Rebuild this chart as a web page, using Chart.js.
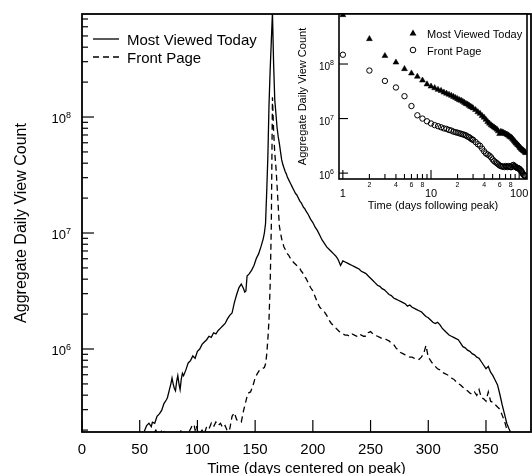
<!DOCTYPE html>
<html>
<head>
<meta charset="utf-8">
<script src="https://cdn.jsdelivr.net/npm/chart.js@4.4.1/dist/chart.umd.min.js"></script>
<style>
  html, body { margin: 0; padding: 0; background: #fff; }
  #wrap { position: relative; width: 532px; height: 474px; }
  #main { position: absolute; left: 0; top: 0; }
  #inset { position: absolute; left: 280px; top: 0; }
</style>
</head>
<body>
<div id="wrap">
  <canvas id="main" width="532" height="474"></canvas>
  <canvas id="inset" width="252" height="215"></canvas>
</div>
<script>
// values are log10 of the aggregate daily view count
const mostViewedDays = [
  54, 56, 58, 60, 61, 63, 65, 67, 69, 71, 73, 74, 76, 77, 78, 79, 80, 81, 82, 83,
  84, 85, 86, 87, 88, 90, 92, 94, 96, 98, 100, 102, 104, 106, 108, 110, 112, 114, 116, 118,
  120, 122, 124, 126, 128, 130, 132, 134, 136, 138, 140, 141, 142, 143, 145, 147, 149, 151, 153, 155,
  157, 158, 159, 160, 161, 162, 163, 164, 165,
  166, 167, 168, 169, 170, 171, 172, 173, 174, 175, 176, 177, 178, 179, 180, 181, 182, 183, 184, 185,
  186, 187, 188, 189, 190, 191, 192, 193, 194,
  196, 198, 200, 202, 204, 206, 208, 210, 212, 214, 216, 218, 220, 222, 224, 226, 228, 230, 232, 234,
  236, 238, 240, 242, 244, 246, 248, 250, 252, 254, 256, 258, 260, 262, 264, 266, 268, 270, 272, 274,
  276, 278, 280, 282, 284, 286, 288, 290, 292, 294, 296, 298, 300, 302, 304, 306, 308, 310, 312, 314,
  316, 318, 320, 322, 324, 326, 328, 330, 332, 334, 336, 338, 340, 342, 344, 346, 348, 350, 352, 354,
  356, 358, 360, 362, 364, 366, 368, 370, 372
];
const mostViewedLog10 = [
  5.29, 5.34, 5.36, 5.33, 5.37, 5.36, 5.42, 5.44, 5.47, 5.53, 5.56, 5.58, 5.66, 5.70, 5.75, 5.70, 5.66, 5.64, 5.72, 5.77,
  5.70, 5.65, 5.74, 5.79, 5.77, 5.82, 5.88, 5.90, 5.94, 5.92, 5.98, 6.00, 6.04, 6.06, 6.08, 6.11, 6.10, 6.14, 6.13, 6.16,
  6.18, 6.20, 6.22, 6.26, 6.29, 6.31, 6.40, 6.47, 6.53, 6.56, 6.52, 6.49, 6.50, 6.63, 6.65, 6.68, 6.72, 6.78, 6.82, 6.88,
  6.95, 7.00, 7.08, 7.35, 7.65, 8.10, 8.40, 8.65, 8.90,
  8.46, 8.15, 8.03, 7.91, 7.83, 7.77, 7.70, 7.63, 7.59, 7.56, 7.53, 7.51, 7.48, 7.46, 7.44, 7.42, 7.40, 7.38, 7.36, 7.34,
  7.33, 7.31, 7.29, 7.27, 7.26, 7.24, 7.22, 7.21, 7.19,
  7.16, 7.12, 7.09, 7.05, 7.02, 6.98, 6.94, 6.91, 6.88, 6.86, 6.84, 6.82, 6.80, 6.77, 6.72, 6.76, 6.75, 6.74, 6.73, 6.72,
  6.71, 6.70, 6.69, 6.67, 6.66, 6.65, 6.63, 6.61, 6.59, 6.57, 6.55, 6.54, 6.52, 6.51, 6.49, 6.47, 6.46, 6.44, 6.43, 6.42,
  6.41, 6.40, 6.39, 6.37, 6.38, 6.36, 6.35, 6.34, 6.33, 6.32, 6.30, 6.28, 6.27, 6.25, 6.23, 6.22, 6.23, 6.21, 6.18, 6.16,
  6.14, 6.12, 6.11, 6.10, 6.09, 6.08, 6.05, 6.02, 6.01, 5.99, 5.98, 5.96, 5.95, 5.93, 5.92, 5.89, 5.86, 5.83, 5.85, 5.80,
  5.77, 5.73, 5.69, 5.61, 5.52, 5.44, 5.36, 5.31, 5.27
];
const frontPageDays = [
  50, 54, 58, 62, 64, 66, 70, 72, 76, 80, 84, 86, 88, 92, 95, 97, 98, 99, 101, 104,
  106, 108, 110, 112, 114, 116, 118, 120, 122, 124, 126, 128, 130, 132, 134, 136, 138, 140, 142, 143,
  144, 146, 148, 150, 152, 154, 156, 158, 159, 160, 161, 162, 163, 164, 165,
  166, 167, 168, 169, 170, 171, 172, 173, 174, 175, 176, 177, 178, 179, 180, 181, 182, 183, 184, 185,
  186, 187, 188, 189, 190, 191, 192, 193, 194,
  196, 198, 200, 202, 204, 206, 208, 210, 212, 214, 216, 218, 220, 222, 224, 226, 228, 230, 232, 234,
  236, 238, 240, 242, 244, 246, 248, 250, 252, 254, 256, 258, 260, 262, 264, 266, 268, 270, 272, 274,
  276, 278, 280, 282, 284, 286, 288, 290, 292, 294, 296, 298, 300, 302, 304, 306, 308, 310, 312, 314,
  316, 318, 320, 322, 324, 326, 328, 330, 332, 334, 336, 338, 340, 342, 344, 346, 348, 350, 352, 354,
  356, 358, 360, 362, 364, 366, 368, 370
];
const frontPageLog10 = [
  5.20, 5.24, 5.22, 5.27, 5.30, 5.25, 5.31, 5.26, 5.24, 5.28, 5.26, 5.30, 5.25, 5.27, 5.33, 5.35, 5.30, 5.34, 5.26, 5.30,
  5.27, 5.33, 5.31, 5.36, 5.33, 5.37, 5.34, 5.36, 5.32, 5.34, 5.29, 5.31, 5.42, 5.45, 5.39, 5.38, 5.37, 5.47, 5.55, 5.59,
  5.62, 5.63, 5.68, 5.75, 5.79, 5.82, 5.83, 5.84, 5.87, 5.95, 6.08, 6.25, 6.55, 7.05, 8.17,
  7.88, 7.69, 7.57, 7.41, 7.23, 7.06, 7.00, 6.95, 6.91, 6.88, 6.86, 6.84, 6.82, 6.81, 6.79, 6.78, 6.76, 6.75, 6.74, 6.73,
  6.72, 6.71, 6.70, 6.69, 6.67, 6.66, 6.64, 6.62, 6.61,
  6.57, 6.53, 6.50, 6.45, 6.40, 6.36, 6.34, 6.32, 6.29, 6.25, 6.22, 6.20, 6.18, 6.16, 6.14, 6.13, 6.12, 6.12, 6.11, 6.13,
  6.12, 6.11, 6.13, 6.12, 6.11, 6.11, 6.14, 6.15, 6.13, 6.12, 6.11, 6.10, 6.09, 6.09, 6.08, 6.07, 6.05, 6.04, 6.01, 5.99,
  5.97, 5.96, 5.95, 5.94, 5.93, 5.93, 5.92, 5.92, 5.91, 5.93, 5.96, 6.03, 5.93, 5.90, 5.87, 5.85, 5.83, 5.82, 5.80, 5.79,
  5.78, 5.77, 5.75, 5.74, 5.72, 5.70, 5.69, 5.67, 5.65, 5.64, 5.62, 5.61, 5.63, 5.60, 5.65, 5.58, 5.57, 5.55, 5.63, 5.55,
  5.54, 5.52, 5.50, 5.48, 5.43, 5.38, 5.31, 5.25
];
const peakDay = 165;
const xTickValues = [0, 50, 100, 150, 200, 250, 300, 350];
const yDecades = [6, 7, 8];
const insetXMajor = [1, 10, 100];
const insetXMinorLabels = [2, 4, 6, 8, 20, 40, 60, 80];
const insetYDecades = [6, 7, 8];

const FONT = "'Liberation Sans', Arial, Helvetica, sans-serif";
Chart.defaults.font.family = FONT;
Chart.defaults.color = '#000';

function toPoints(days, logs) {
  return days.map((d, i) => ({ x: d, y: Math.pow(10, logs[i]) }));
}
function afterPeak(days, logs) {
  return days.map((d, i) => ({ x: d - peakDay + 1, y: Math.pow(10, logs[i]) }))
    .filter(p => p.x >= 1 && p.x <= 118);
}
function tickLine(ctx, x1, y1, x2, y2) {
  ctx.beginPath(); ctx.moveTo(x1, y1); ctx.lineTo(x2, y2); ctx.stroke();
}
function drawPow10(ctx, exp, xRight, py, size, supSize, baseDy, supDy) {
  ctx.textAlign = 'left';
  ctx.textBaseline = 'alphabetic';
  ctx.font = supSize + 'px ' + FONT;
  const ws = ctx.measureText(String(exp)).width;
  ctx.fillText(String(exp), xRight - ws, py + supDy);
  ctx.font = size + 'px ' + FONT;
  const wb = ctx.measureText('10').width;
  ctx.fillText('10', xRight - ws - wb, py + baseDy);
}
function marker(ctx, style, x, y, r) {
  ctx.beginPath();
  if (style === 'triangle') {
    ctx.moveTo(x, y - r);
    ctx.lineTo(x + r * 0.866, y + r * 0.5);
    ctx.lineTo(x - r * 0.866, y + r * 0.5);
    ctx.closePath();
    ctx.fill();
  } else {
    ctx.arc(x, y, r, 0, Math.PI * 2);
    ctx.stroke();
  }
}

const mainFrame = {
  id: 'mainFrame',
  afterDraw(chart) {
    const { ctx, chartArea: a } = chart;
    const xs = chart.scales.x, ys = chart.scales.y;
    ctx.save();
    ctx.strokeStyle = '#000';
    ctx.fillStyle = '#000';
    ctx.setLineDash([]);
    ctx.lineWidth = 1.2;
    xTickValues.forEach(v => {
      const px = xs.getPixelForValue(v);
      tickLine(ctx, px, a.bottom, px, a.bottom - 12);
    });
    for (let e = 5; e <= 8; e++) {
      for (let m = 1; m <= 9; m++) {
        const v = m * Math.pow(10, e);
        if (v < ys.min || v > ys.max) continue;
        const py = ys.getPixelForValue(v);
        tickLine(ctx, a.left, py, a.left + (m === 1 ? 12 : 6), py);
      }
    }
    ctx.lineWidth = 1.8;
    ctx.strokeRect(a.left, a.top, a.right - a.left, a.bottom - a.top);
    yDecades.forEach(e => drawPow10(ctx, e, a.left - 11, ys.getPixelForValue(Math.pow(10, e)), 13, 9, 6, 1));

    // legend
    const items = chart.data.datasets;
    const rows = [39, 57];
    ctx.font = '15px ' + FONT;
    ctx.textAlign = 'left';
    ctx.textBaseline = 'alphabetic';
    items.forEach((ds, i) => {
      ctx.lineWidth = 1.3;
      ctx.setLineDash(ds.borderDash || []);
      tickLine(ctx, 93, rows[i], 119, rows[i]);
      ctx.setLineDash([]);
      ctx.fillText(ds.label, 127, rows[i] + 6);
    });
    ctx.restore();
  }
};

new Chart(document.getElementById('main'), {
  type: 'line',
  data: {
    datasets: [
      {
        label: 'Most Viewed Today',
        data: toPoints(mostViewedDays, mostViewedLog10),
        borderColor: '#000',
        borderWidth: 1.3,
        pointRadius: 0,
        tension: 0,
      },
      {
        label: 'Front Page',
        data: toPoints(frontPageDays, frontPageLog10),
        borderColor: '#000',
        borderWidth: 1.3,
        borderDash: [6, 4],
        pointRadius: 0,
        tension: 0,
      },
    ],
  },
  options: {
    responsive: false,
    animation: false,
    layout: { padding: { top: 14, right: 1, left: 0, bottom: 0 } },
    plugins: { legend: { display: false }, tooltip: { enabled: false } },
    scales: {
      x: {
        type: 'linear',
        min: 0,
        max: 389,
        grid: { display: false, drawTicks: false },
        border: { display: false },
        afterBuildTicks: s => { s.ticks = xTickValues.map(v => ({ value: v })); },
        afterFit: s => { s.height = 42; },
        ticks: { font: { size: 15 }, padding: 9, maxRotation: 0, autoSkip: false },
        title: {
          display: true,
          text: 'Time (days centered on peak)',
          font: { size: 15 },
          padding: { top: 0, bottom: -4 },
        },
      },
      y: {
        type: 'logarithmic',
        min: 1.925e5,
        max: 7.73e8,
        grid: { display: false, drawTicks: false },
        border: { display: false },
        ticks: { display: false },
        afterFit: s => { s.width = 82; },
        title: {
          display: true,
          text: 'Aggregate Daily View Count',
          font: { size: 16 },
          padding: { top: 12, bottom: 0 },
        },
      },
    },
  },
  plugins: [mainFrame],
});

const insetFrame = {
  id: 'insetFrame',
  beforeDraw(chart) {
    const { ctx, chartArea: a } = chart;
    ctx.save();
    ctx.fillStyle = '#fff';
    ctx.fillRect(a.left, a.top, a.right - a.left, a.bottom - a.top);
    ctx.restore();
  },
  afterDraw(chart) {
    const { ctx, chartArea: a } = chart;
    const xs = chart.scales.x, ys = chart.scales.y;
    ctx.save();
    ctx.strokeStyle = '#000';
    ctx.fillStyle = '#000';
    ctx.lineWidth = 1.1;
    for (let e = 0; e <= 2; e++) {
      for (let m = 1; m <= 9; m++) {
        const v = m * Math.pow(10, e);
        if (v < xs.min || v > xs.max) continue;
        const px = xs.getPixelForValue(v);
        tickLine(ctx, px, a.bottom, px, a.bottom - (m === 1 ? 9 : 5));
      }
    }
    insetYDecades.forEach(e => {
      const py = ys.getPixelForValue(Math.pow(10, e));
      tickLine(ctx, a.left, py, a.left + 9, py);
    });
    ctx.lineWidth = 1.6;
    ctx.strokeRect(a.left, a.top, a.right - a.left, a.bottom - a.top);

    insetYDecades.forEach(e => drawPow10(ctx, e, a.left - 5, ys.getPixelForValue(Math.pow(10, e)), 10, 7, 6, 1));
    ctx.textAlign = 'center';
    ctx.textBaseline = 'alphabetic';
    ctx.font = '11px ' + FONT;
    insetXMajor.forEach(v => ctx.fillText(String(v), xs.getPixelForValue(v), a.bottom + 18));
    ctx.font = '7px ' + FONT;
    insetXMinorLabels.forEach(v => ctx.fillText(String(v).charAt(0), xs.getPixelForValue(v), a.bottom + 8));

    // legend
    ctx.font = '11px ' + FONT;
    ctx.textAlign = 'left';
    const rows = [33.5, 50];
    chart.data.datasets.forEach((ds, i) => {
      ctx.lineWidth = 1;
      marker(ctx, ds.pointStyle, 133, rows[i], ds.pointStyle === 'triangle' ? 4 : 2.8);
      ctx.fillText(ds.label, 147, rows[i] + 4.5);
    });
    ctx.restore();
  }
};

new Chart(document.getElementById('inset'), {
  type: 'scatter',
  data: {
    datasets: [
      {
        label: 'Most Viewed Today',
        data: afterPeak(mostViewedDays, mostViewedLog10),
        pointStyle: 'triangle',
        pointRadius: 3.4,
        backgroundColor: '#000',
        borderColor: '#000',
        borderWidth: 0.5,
      },
      {
        label: 'Front Page',
        data: afterPeak(frontPageDays, frontPageLog10),
        pointStyle: 'circle',
        pointRadius: 2.7,
        backgroundColor: 'rgba(0,0,0,0)',
        borderColor: '#000',
        borderWidth: 1,
      },
    ],
  },
  options: {
    responsive: false,
    animation: false,
    layout: { padding: { top: 14, right: 1, left: 0, bottom: 0 } },
    plugins: { legend: { display: false }, tooltip: { enabled: false } },
    scales: {
      x: {
        type: 'logarithmic',
        min: 0.904,
        max: 122.7,
        grid: { display: false, drawTicks: false },
        border: { display: false },
        ticks: { display: false },
        afterFit: s => { s.height = 36; },
        title: {
          display: true,
          text: 'Time (days following peak)',
          font: { size: 11 },
          padding: { top: 0, bottom: 2 },
        },
      },
      y: {
        type: 'logarithmic',
        min: 7.8e5,
        max: 8.26e8,
        grid: { display: false, drawTicks: false },
        border: { display: false },
        ticks: { display: false },
        afterFit: s => { s.width = 59; },
        title: {
          display: true,
          text: 'Aggregate Daily View Count',
          font: { size: 11 },
          padding: { top: 16, bottom: 0 },
        },
      },
    },
  },
  plugins: [insetFrame],
});
</script>
</body>
</html>
